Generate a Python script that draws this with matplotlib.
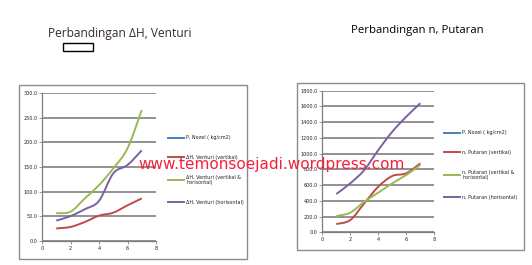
import matplotlib
matplotlib.use('Agg')
import matplotlib.pyplot as plt
from matplotlib.path import Path
from matplotlib.patches import PathPatch, Rectangle
from matplotlib.lines import Line2D
import numpy as np

# data
x_points = [1, 2, 3, 4, 5, 6, 7]

dh_vertikal = [25, 28, 38, 51, 57, 72, 86]
dh_vert_hor = [56, 59, 86, 113, 147, 188, 266]
dh_horisontal = [41, 50, 64, 81, 137, 154, 184]

n_vertikal = [105, 156, 369, 580, 716, 750, 877]
n_vert_hor = [207, 250, 389, 504, 623, 729, 856]
n_horisontal = [487, 623, 792, 1046, 1279, 1470, 1640]

left_labels = ['P, Nozel ( kg/cm2)', '\u0394H, Venturi (vertikal)',
               '\u0394H, Venturi (vertikal &\nhorisontal)', '\u0394H, Venturi (horisontal)']
right_labels = ['P, Nozel ( kg/cm2)', 'n, Putaran (vertikal)',
                'n, Putaran (vertikal &\nhorisontal)', 'n, Putaran (horisontal)']

COLORS = ['#4A7EBB', '#BE4B48', '#98B954', '#7D60A0']


def smooth_path(xs, ys):
    # excel style smoothed line: catmull-rom turned into bezier segments
    xs = np.asarray(xs, float)
    ys = np.asarray(ys, float)
    n = len(xs)
    verts = [(xs[0], ys[0])]
    codes = [Path.MOVETO]
    for i in range(n - 1):
        x0, y0 = (xs[i - 1], ys[i - 1]) if i > 0 else (xs[i], ys[i])
        x3, y3 = (xs[i + 2], ys[i + 2]) if i + 2 < n else (xs[i + 1], ys[i + 1])
        c1 = (xs[i] + (xs[i + 1] - x0) / 6.0, ys[i] + (ys[i + 1] - y0) / 6.0)
        c2 = (xs[i + 1] - (x3 - xs[i]) / 6.0, ys[i + 1] - (y3 - ys[i]) / 6.0)
        verts += [c1, c2, (xs[i + 1], ys[i + 1])]
        codes += [Path.CURVE4] * 3
    return Path(verts, codes)


def make_chart(ax, series, labels, ymax, ystep, leg_anchor):
    for i, ys in enumerate(series):
        ax.add_patch(PathPatch(smooth_path(x_points, ys), fill=False,
                               edgecolor=COLORS[i + 1], lw=1.4, zorder=3))
    ax.set_xlim(0, 8)
    ax.set_ylim(0, ymax)
    ax.set_xticks([0, 2, 4, 6, 8])
    ax.set_yticks(np.arange(0, ymax + 1, ystep))
    ax.set_yticklabels(['%.1f' % v for v in np.arange(0, ymax + 1, ystep)])
    ax.tick_params(labelsize=3.5, length=2, width=0.6, color='#868686',
                   labelcolor='#222222', pad=1.5)
    ax.yaxis.grid(True, color='#7f7f7f', lw=1.2)
    ax.set_axisbelow(True)
    for s in ['top', 'right']:
        ax.spines[s].set_visible(False)
    for s in ['left', 'bottom']:
        ax.spines[s].set_color('#7f7f7f')
        ax.spines[s].set_linewidth(0.9)
    handles = [Line2D([], [], color=c, lw=1.4) for c in COLORS]
    fig.legend(handles, labels, loc='upper left', bbox_to_anchor=leg_anchor,
               frameon=False, fontsize=3.5, handlelength=3.2, labelspacing=3.0,
               handletextpad=0.5, labelcolor='#222222')


fig = plt.figure(figsize=(5.32, 2.65), dpi=100)

# chart frames
fig.patches.append(Rectangle((19 / 532, 1 - 259 / 265), 228 / 532, 174 / 265,
                             transform=fig.transFigure, fill=False,
                             edgecolor='#8c8c8c', lw=1.0))
fig.patches.append(Rectangle((297 / 532, 1 - 250 / 265), 227 / 532, 167 / 265,
                             transform=fig.transFigure, fill=False,
                             edgecolor='#8c8c8c', lw=1.0))

ax1 = fig.add_axes([42 / 532, 1 - 240.7 / 265, 114 / 532, 147.4 / 265])
make_chart(ax1, [dh_vertikal, dh_vert_hor, dh_horisontal], left_labels,
           300, 50, (164 / 532, 1 - 131 / 265))

ax2 = fig.add_axes([322.3 / 532, 1 - 232.3 / 265, 112 / 532, 141.6 / 265])
make_chart(ax2, [n_vertikal, n_vert_hor, n_horisontal], right_labels,
           1800, 200, (440 / 532, 1 - 126 / 265))

# titles
fig.text(48 / 532, 1 - 33 / 265, 'Perbandingan \u0394H, Venturi', fontsize=8.6,
         family='Open Sans', color='#3a2a2a', va='center', ha='left')
fig.text(351 / 532, 1 - 31 / 265, 'Perbandingan n, Putaran', fontsize=8.2,
         family='Open Sans', color='black', va='center', ha='left')
fig.patches.append(Rectangle((63 / 532, 1 - 51 / 265), 30 / 532, 8 / 265,
                             transform=fig.transFigure, fill=True,
                             facecolor='white', edgecolor='black', lw=1.0))

# watermark
fig.text(272 / 532, 1 - 165 / 265, 'www.temonsoejadi.wordpress.com',
         fontsize=11, color='#F2203A', ha='center', va='center', zorder=10)

plt.savefig('out.png', dpi=100)
